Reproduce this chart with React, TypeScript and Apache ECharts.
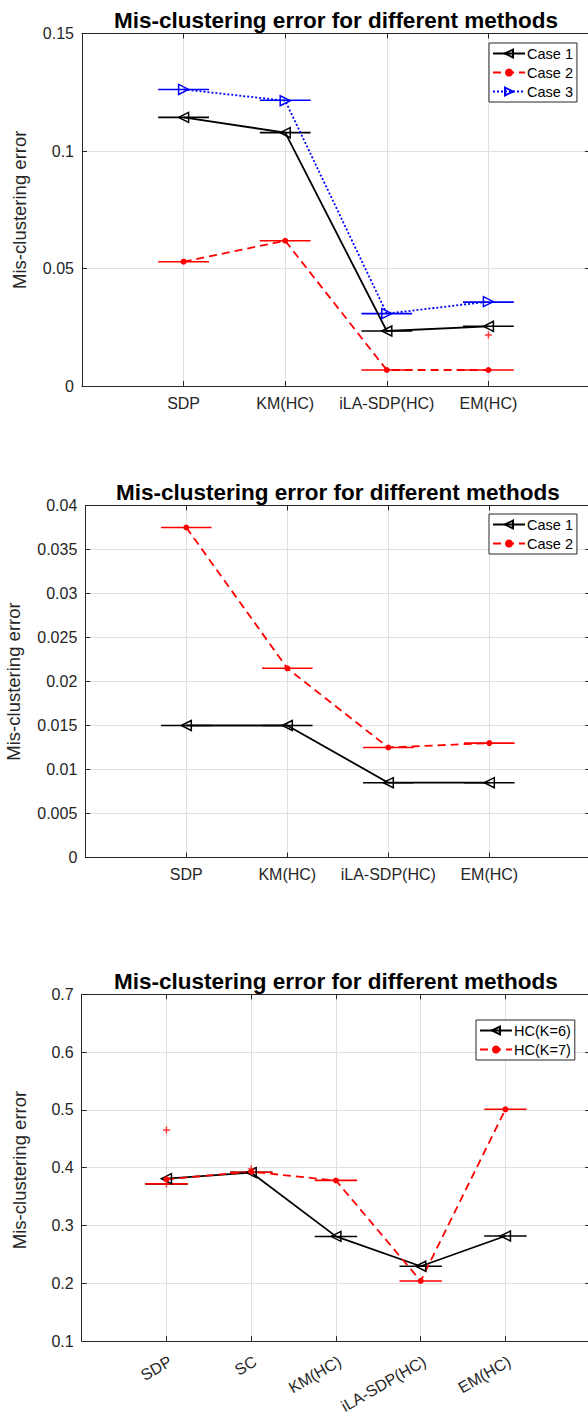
import React, { useEffect, useRef } from 'react';
import * as echarts from 'echarts';

const FONT = "'Liberation Sans', Arial, Helvetica, sans-serif";
const AXIS_COLOR = '#262626';
const GRID_COLOR = '#e0e0e0';
const TITLE = 'Mis-clustering error for different methods';
const YLABEL = 'Mis-clustering error';

// ---------- data ----------
const methods4 = ['SDP', 'KM(HC)', 'iLA-SDP(HC)', 'EM(HC)'];
const methods5 = ['SDP', 'SC', 'KM(HC)', 'iLA-SDP(HC)', 'EM(HC)'];

// Chart 1
const c1Case1 = [0.1143, 0.1078, 0.0234, 0.0254];
const c1Case2 = [0.0529, 0.0618, 0.0068, 0.0068];
const c1Case3 = [0.1262, 0.1214, 0.0308, 0.0359];
const c1Case1Med = [0.1143, 0.1078, 0.0234, 0.0254];
const c1Case2Med = [0.0529, 0.0618, 0.0068, 0.0068];
const c1Case3Med = [0.1262, 0.1216, 0.0308, 0.0357];
const c1Outliers = [[4, 0.0217]];

// Chart 2
const c2Case1 = [0.015, 0.015, 0.0085, 0.0085];
const c2Case2 = [0.0375, 0.0215, 0.0125, 0.013];
const c2Case1Med = [0.015, 0.015, 0.0085, 0.0085];
const c2Case2Med = [0.0375, 0.0215, 0.0125, 0.013];
const c2Outliers: number[][] = [];

// Chart 3
const c3K6 = [0.381, 0.3915, 0.2812, 0.2295, 0.2818];
const c3K7 = [0.38, 0.393, 0.3778, 0.204, 0.501];
const c3K6Med = [0.372, 0.392, 0.281, 0.2295, 0.2818];
const c3K7Med = [0.372, 0.392, 0.378, 0.204, 0.501];
const c3Outliers = [[1, 0.4653], [1, 0.3716], [2, 0.398]];

const PLUS = 'path://M4,0h2v4h4v2h-4v4h-2v-4h-4v-2h4z';

type SDef = {
  name: string;
  values: number[];
  medians: number[];
  color: string;
  symbol: string;
  rotate: number;
  size: number;
  dash: any;
  hollow: boolean;
};

type Cfg = {
  cats: string[];
  yMin: number;
  yMax: number;
  yInterval: number;
  grid: { left: number; top: number; width: number; height: number };
  titleY: number;
  ylabelX: number;
  legend: { left: number; top: number };
  series: SDef[];
  outliers: number[][];
  rotateLabels: number;
  labelMargin: number;
};

function buildOption(cfg: Cfg): any {
  const xMax = cfg.cats.length + 1;
  const g = cfg.grid;
  const baseX = {
    type: 'value',
    min: 0,
    max: xMax,
    interval: 1,
    gridIndex: 0,
  };
  const baseY = {
    type: 'value',
    min: cfg.yMin,
    max: cfg.yMax,
    interval: cfg.yInterval,
  };
  const series: any[] = [];
  cfg.series.forEach((s) => {
    series.push({
      type: 'custom',
      name: s.name + ' median',
      coordinateSystem: 'cartesian2d',
      z: 2,
      data: s.medians.map((v, i) => [i + 1, v]),
      renderItem: (params: any, api: any) => {
        const x = api.value(0);
        const y = api.value(1);
        const p1 = api.coord([x - 0.25, y]);
        const p2 = api.coord([x + 0.25, y]);
        return {
          type: 'line',
          shape: { x1: p1[0], y1: p1[1], x2: p2[0], y2: p2[1] },
          style: { stroke: s.color, lineWidth: 1.6 },
        };
      },
    });
  });
  cfg.series.forEach((s) => {
    series.push({
      type: 'line',
      name: s.name,
      z: 3,
      data: s.values.map((v, i) => [i + 1, v]),
      symbol: s.symbol,
      symbolSize: s.size,
      symbolRotate: s.rotate,
      showAllSymbol: true,
      itemStyle: s.hollow
        ? { color: 'rgba(255,255,255,0)', borderColor: s.color, borderWidth: 1.5 }
        : { color: s.color },
      lineStyle: { color: s.color, width: 1.8, type: s.dash },
    });
  });
  if (cfg.outliers.length) {
    series.push({
      type: 'scatter',
      name: 'outliers',
      z: 4,
      symbol: PLUS,
      symbolSize: 7,
      itemStyle: { color: '#ff0000' },
      data: cfg.outliers,
    });
  }
  const cx = g.left + g.width / 2;
  const cy = g.top + g.height / 2;
  const rotated = cfg.rotateLabels !== 0;
  return {
    animation: false,
    backgroundColor: '#ffffff',
    textStyle: { fontFamily: FONT },
    grid: { left: g.left, top: g.top, width: g.width, height: g.height, containLabel: false },
    xAxis: [
      {
        ...baseX,
        position: 'bottom',
        axisLine: { show: true, onZero: false, lineStyle: { color: AXIS_COLOR, width: 1 } },
        axisTick: { show: true, inside: true, length: 5, lineStyle: { color: AXIS_COLOR } },
        axisLabel: {
          show: true,
          color: AXIS_COLOR,
          fontSize: 16,
          fontFamily: FONT,
          margin: cfg.labelMargin,
          rotate: cfg.rotateLabels,
          verticalAlign: rotated ? 'top' : undefined,
          showMinLabel: true,
          showMaxLabel: true,
          formatter: (v: number) => cfg.cats[Math.round(v) - 1] || '',
        },
        splitLine: { show: true, lineStyle: { color: GRID_COLOR, width: 1 } },
      },
      {
        ...baseX,
        position: 'top',
        axisLine: { show: true, onZero: false, lineStyle: { color: AXIS_COLOR, width: 1 } },
        axisTick: { show: true, inside: true, length: 5, lineStyle: { color: AXIS_COLOR } },
        axisLabel: { show: false },
        splitLine: { show: false },
      },
    ],
    yAxis: [
      {
        ...baseY,
        position: 'left',
        axisLine: { show: true, onZero: false, lineStyle: { color: AXIS_COLOR, width: 1 } },
        axisTick: { show: true, inside: true, length: 5, lineStyle: { color: AXIS_COLOR } },
        axisLabel: {
          show: true,
          color: AXIS_COLOR,
          fontSize: 16,
          fontFamily: FONT,
          margin: 8,
          formatter: (v: number) => String(+v.toFixed(4)),
        },
        splitLine: { show: true, lineStyle: { color: GRID_COLOR, width: 1 } },
      },
      {
        ...baseY,
        position: 'right',
        axisLine: { show: true, onZero: false, lineStyle: { color: AXIS_COLOR, width: 1 } },
        axisTick: { show: true, inside: true, length: 5, lineStyle: { color: AXIS_COLOR } },
        axisLabel: { show: false },
        splitLine: { show: false },
      },
    ],
    legend: {
      data: cfg.series.map((s) => s.name),
      left: cfg.legend.left,
      top: cfg.legend.top,
      orient: 'vertical',
      itemWidth: 32,
      itemHeight: 10,
      itemGap: 4,
      padding: [3, 4, 3, 3],
      borderColor: AXIS_COLOR,
      borderWidth: 1,
      borderRadius: 0,
      backgroundColor: '#ffffff',
      selectedMode: false,
      textStyle: { fontSize: 14.5, color: '#000', fontFamily: FONT, padding: [0, 0, 0, -3] },
    },
    graphic: [
      {
        type: 'text',
        x: cx,
        y: cfg.titleY,
        style: {
          text: TITLE,
          fontSize: 22.5,
          fontWeight: 'bold',
          fontFamily: FONT,
          fill: '#000',
          textAlign: 'center',
          textVerticalAlign: 'middle',
        },
      },
      {
        type: 'text',
        x: cfg.ylabelX,
        y: cy,
        rotation: Math.PI / 2,
        style: {
          text: YLABEL,
          fontSize: 18.5,
          fontFamily: FONT,
          fill: AXIS_COLOR,
          textAlign: 'center',
          textVerticalAlign: 'middle',
        },
      },
    ],
    series,
  };
}

const cfg1: Cfg = {
  cats: methods4,
  yMin: 0,
  yMax: 0.15,
  yInterval: 0.05,
  grid: { left: 82, top: 33.5, width: 508, height: 352.5 },
  titleY: 20.5,
  ylabelX: 19,
  legend: { left: 489, top: 43 },
  rotateLabels: 0,
  labelMargin: 9,
  series: [
    { name: 'Case 1', values: c1Case1, medians: c1Case1Med, color: '#000000', symbol: 'triangle', rotate: 90, size: 10, dash: 'solid', hollow: true },
    { name: 'Case 2', values: c1Case2, medians: c1Case2Med, color: '#ff0000', symbol: 'circle', rotate: 0, size: 6, dash: [8, 5], hollow: false },
    { name: 'Case 3', values: c1Case3, medians: c1Case3Med, color: '#0000ff', symbol: 'triangle', rotate: -90, size: 10, dash: [2, 2], hollow: true },
  ],
  outliers: c1Outliers,
};

const cfg2: Cfg = {
  cats: methods4,
  yMin: 0,
  yMax: 0.04,
  yInterval: 0.005,
  grid: { left: 85.3, top: 45.5, width: 505, height: 352 },
  titleY: 32.5,
  ylabelX: 13,
  legend: { left: 489, top: 54 },
  rotateLabels: 0,
  labelMargin: 9,
  series: [
    { name: 'Case 1', values: c2Case1, medians: c2Case1Med, color: '#000000', symbol: 'triangle', rotate: 90, size: 10, dash: 'solid', hollow: true },
    { name: 'Case 2', values: c2Case2, medians: c2Case2Med, color: '#ff0000', symbol: 'circle', rotate: 0, size: 6, dash: [8, 5], hollow: false },
  ],
  outliers: c2Outliers,
};

const cfg3: Cfg = {
  cats: methods5,
  yMin: 0.1,
  yMax: 0.7,
  yInterval: 0.1,
  grid: { left: 81.7, top: 64.3, width: 508.5, height: 351.4 },
  titleY: 51.5,
  ylabelX: 19,
  legend: { left: 476, top: 90 },
  rotateLabels: 30,
  labelMargin: 12,
  series: [
    { name: 'HC(K=6)', values: c3K6, medians: c3K6Med, color: '#000000', symbol: 'triangle', rotate: 90, size: 10, dash: 'solid', hollow: true },
    { name: 'HC(K=7)', values: c3K7, medians: c3K7Med, color: '#ff0000', symbol: 'circle', rotate: 0, size: 6, dash: [8, 5], hollow: false },
  ],
  outliers: c3Outliers,
};

function ChartBox({ cfg, top, height }: { cfg: Cfg; top: number; height: number }) {
  const ref = useRef<HTMLDivElement>(null);
  useEffect(() => {
    if (!ref.current) return;
    const chart = echarts.init(ref.current, undefined, { renderer: 'svg' });
    chart.setOption(buildOption(cfg));
    return () => chart.dispose();
  }, [cfg]);
  return (
    <div
      ref={ref}
      style={{ position: 'absolute', left: 0, top, width: 596, height }}
    />
  );
}

export default function App() {
  return (
    <div
      style={{
        position: 'absolute',
        left: 0,
        top: 0,
        width: 588,
        height: 1416,
        overflow: 'hidden',
        background: '#ffffff',
      }}
    >
      <ChartBox cfg={cfg1} top={0} height={460} />
      <ChartBox cfg={cfg2} top={460} height={470} />
      <ChartBox cfg={cfg3} top={930} height={486} />
    </div>
  );
}
